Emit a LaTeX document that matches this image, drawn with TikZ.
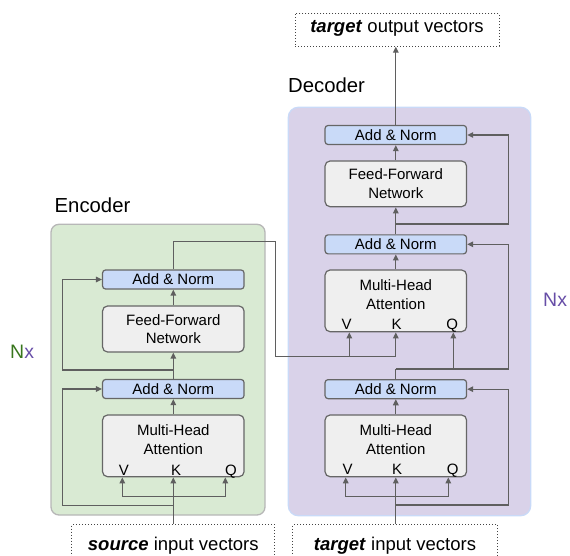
\documentclass[tikz,border=0pt]{standalone}
\usepackage{fontspec}
\setmainfont{Liberation Sans}
\usetikzlibrary{arrows.meta}
\definecolor{lnc}{HTML}{5F5F5F}
\definecolor{bdc}{HTML}{666666}
\definecolor{anfill}{HTML}{C9DAF8}
\definecolor{gfill}{HTML}{EFEFEF}
\definecolor{encbg}{HTML}{D9EAD3}
\definecolor{encbd}{HTML}{B7B7B7}
\definecolor{decbg}{HTML}{D9D2E9}
\definecolor{decbd}{HTML}{C9DAF8}
\definecolor{ngreen}{HTML}{38761D}
\definecolor{npurple}{HTML}{674EA7}
\definecolor{dotc}{HTML}{444444}
\tikzset{
  anbox/.style={draw=bdc, fill=anfill, line width=1.2pt, rounded corners=3pt,
    minimum width=141.5pt, minimum height=19pt, inner sep=0pt,
    font=\fontsize{15}{18.5}\selectfont},
  gbox/.style={draw=bdc, fill=gfill, line width=1.2pt, rounded corners=5pt,
    minimum width=141.5pt, inner sep=0pt, align=center,
    font=\fontsize{15}{18.5}\selectfont},
  txt/.style={inner sep=0pt, align=center, font=\fontsize{15}{18.5}\selectfont},
  lbl/.style={inner sep=0pt, anchor=base, font=\fontsize{15}{18}\selectfont},
  title/.style={inner sep=0pt, anchor=base west, font=\fontsize{20.3}{24}\selectfont},
  nx/.style={inner sep=0pt, anchor=base west, font=\fontsize{19.5}{23}\selectfont},
  iobox/.style={draw=dotc, line width=1pt, dash pattern=on 1pt off 2pt,
    inner sep=0pt, anchor=north, font=\fontsize{18.5}{22}\selectfont},
  conn/.style={draw=lnc, line width=1.3pt},
  arr/.style={conn, -{Triangle[length=6pt,width=5.5pt]}}
}
\begin{document}
\begin{tikzpicture}[x=1pt,y=-1pt]
\useasboundingbox (0,0) rectangle (570,556);
% backgrounds
\node[draw=encbd, fill=encbg, rounded corners=8pt, line width=1.3pt,
  minimum width=214pt, minimum height=290.7pt, inner sep=0pt] (enc) at (158,369.65) {};
\node[draw=decbd, fill=decbg, rounded corners=10pt, line width=1.3pt,
  minimum width=242.4pt, minimum height=408.4pt, inner sep=0pt] (dec) at (409.5,311.5) {};
\node[title] (enct) at (54.5,212.7) {Encoder};
\node[title] (dect) at (288,92.3) {Decoder};
\node[nx] (enx) at (10,358.3) {\textcolor{ngreen}{N}\textcolor{npurple}{x}};
\node[nx, text=npurple] (dnx) at (543,306) {Nx};
% encoder boxes
\node[anbox] (encAN2) at (173.3,279.5) {Add \& Norm};
\node[gbox, minimum height=46pt] (encFF) at (173.3,329) {Feed-Forward\\Network};
\node[anbox] (encAN1) at (173.3,389) {Add \& Norm};
\node[gbox, minimum height=61.7pt] (encMHA) at (173.3,445.85) {};
\node[txt] (encMHAt) at (173.3,439.75) {Multi-Head\\Attention};
\node[lbl] (eV) at (124,475) {V};
\node[lbl] (eK) at (176,475) {K};
\node[lbl] (eQ) at (231,475) {Q};
% decoder boxes
\node[anbox] (decAN3) at (395.8,135) {Add \& Norm};
\node[gbox, minimum height=45.7pt] (decFF) at (395.8,183.85) {Feed-Forward\\Network};
\node[anbox] (decAN2) at (395.8,244.35) {Add \& Norm};
\node[gbox, minimum height=61.7pt] (decMHA2) at (395.8,300.85) {};
\node[txt] (decMHA2t) at (395.8,294.75) {Multi-Head\\Attention};
\node[lbl] (dV2t) at (346.7,329.3) {V};
\node[lbl] (dK2t) at (396.5,329.3) {K};
\node[lbl] (dQ2t) at (452.3,329.3) {Q};
\node[anbox] (decAN1) at (395.8,389.15) {Add \& Norm};
\node[gbox, minimum height=61.7pt] (decMHA1) at (395.8,445.85) {};
\node[txt] (decMHA1t) at (395.8,439.75) {Multi-Head\\Attention};
\node[lbl] (dV1t) at (347.7,474) {V};
\node[lbl] (dK1t) at (397,474) {K};
\node[lbl] (dQ1t) at (452.7,474) {Q};
% input / output boxes
\node[iobox, minimum width=203.3pt, text height=25.7pt, text depth=20pt] (src) at (173.3,524.3)
  {\textbf{\textit{source}} input vectors};
\node[iobox, minimum width=204.6pt, text height=25.7pt, text depth=20pt] (tin) at (395,524.3)
  {\textbf{\textit{target}} input vectors};
\node[iobox, minimum width=204pt, text height=18.7pt, text depth=13.7pt] (tout) at (397,13.3)
  {\textbf{\textit{target}} output vectors};
% coordinates
\coordinate (eL) at (62.7,0);
\coordinate (eVa) at (122.3,496.7);
\coordinate (eQa) at (225.3,496.7);
\coordinate (eR1) at (173.3,505.7);
\coordinate (eR2) at (173.3,370);
\coordinate (xR) at (275.3,241.7);
\coordinate (xB) at (275.3,356.7);
\coordinate (dV2) at (349.3,356.7);
\coordinate (dK2) at (395.8,356.7);
\coordinate (dQ2) at (453.3,369);
\coordinate (dJ1) at (395.8,369);
\coordinate (dJ2) at (395.8,224);
\coordinate (dRx) at (508.5,0);
\coordinate (dV1) at (345.7,496.7);
\coordinate (dQ1) at (448.3,496.7);
\coordinate (dR1) at (395.8,505);
% encoder connectors
\draw[arr] (src.north) -- (encMHA.south);
\draw[conn] (eVa) -- (eQa);
\draw[arr] (eVa) -- (eVa |- encMHA.south);
\draw[arr] (eQa) -- (eQa |- encMHA.south);
\draw[arr] (eR1) -- (eR1 -| eL) |- (encAN1.west);
\draw[arr] (encMHA.north) -- (encAN1.south);
\draw[arr] (encAN1.north) -- (encFF.south);
\draw[arr] (eR2) -- (eR2 -| eL) |- (encAN2.west);
\draw[arr] (encFF.north) -- (encAN2.south);
% encoder to decoder
\draw[conn] (encAN2.north) |- (xR) -- (xB) -- (dK2);
\draw[arr] (dK2) -- (dK2 |- decMHA2.south);
\draw[arr] (dV2) -- (dV2 |- decMHA2.south);
% decoder connectors
\draw[arr] (tin.north -| decMHA1.south) -- (decMHA1.south);
\draw[conn] (dV1) -- (dQ1);
\draw[arr] (dV1) -- (dV1 |- decMHA1.south);
\draw[arr] (dQ1) -- (dQ1 |- decMHA1.south);
\draw[arr] (dR1) -- (dR1 -| dRx) |- (decAN1.east);
\draw[arr] (decMHA1.north) -- (decAN1.south);
\draw[conn] (decAN1.north) -- (dJ1);
\draw[arr] (dJ1) -- (dJ1 -| dRx) |- (decAN2.east);
\draw[arr] (dQ2) -- (dQ2 |- decMHA2.south);
\draw[arr] (decMHA2.north) -- (decAN2.south);
\draw[arr] (decAN2.north) -- (decFF.south);
\draw[arr] (dJ2) -- (dJ2 -| dRx) |- (decAN3.east);
\draw[arr] (decFF.north) -- (decAN3.south);
\draw[arr] (decAN3.north) -- (decAN3.north |- tout.south);
\end{tikzpicture}
\end{document}
